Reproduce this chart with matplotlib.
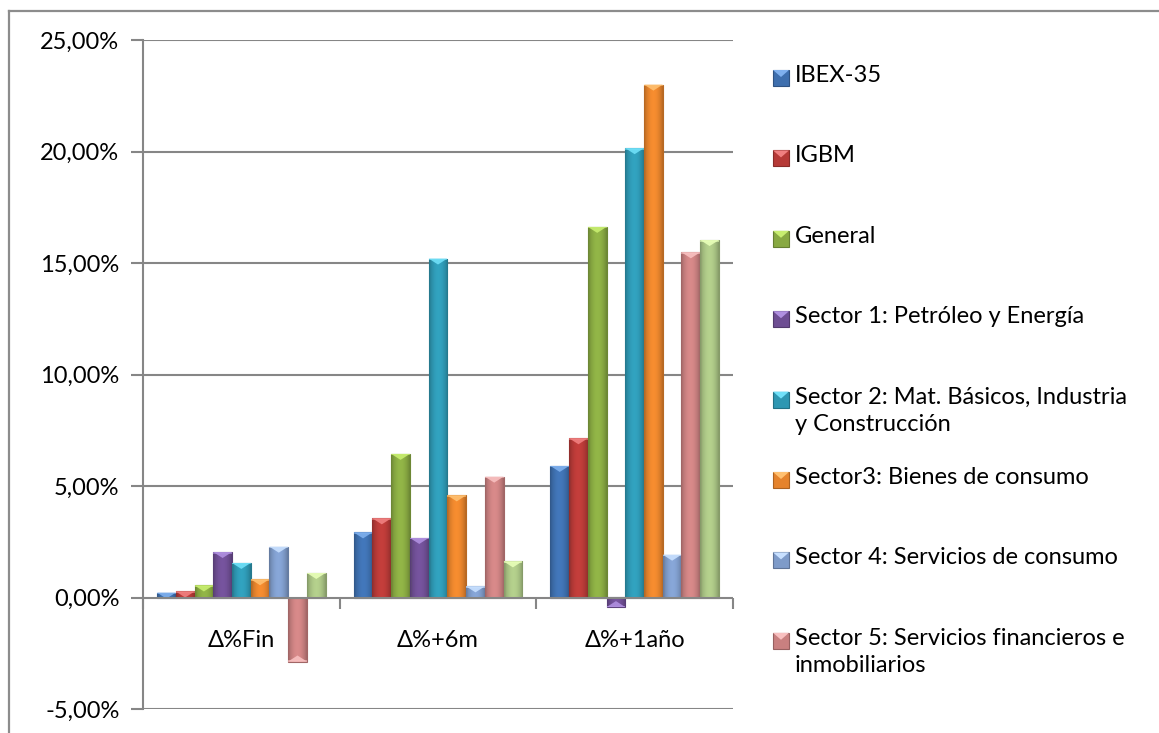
import numpy as np
import matplotlib
matplotlib.use("Agg")
import matplotlib.pyplot as plt
from matplotlib.patches import Polygon, Rectangle
from matplotlib.colors import to_rgb
from matplotlib.lines import Line2D

categories = ["Δ%Fin", "Δ%+6m", "Δ%+1año"]
series_names = [
    "IBEX-35",
    "IGBM",
    "General",
    "Sector 1: Petróleo y Energía",
    "Sector 2: Mat. Básicos, Industria\ny Construcción",
    "Sector3: Bienes de consumo",
    "Sector 4: Servicios de consumo",
    "Sector 5: Servicios financieros e\ninmobiliarios",
    "Sector 6",
]
ibex = [0.22, 2.92, 5.90]
igbm = [0.27, 3.55, 7.14]
general = [0.54, 6.44, 16.62]
sector1 = [2.04, 2.67, -0.43]
sector2 = [1.55, 15.20, 20.15]
sector3 = [0.82, 4.58, 23.00]
sector4 = [2.28, 0.50, 1.92]
sector5 = [-2.87, 5.42, 15.48]
sector6 = [1.10, 1.62, 16.03]
values = [ibex, igbm, general, sector1, sector2, sector3, sector4, sector5, sector6]
legend_count = 8  # the ninth series is cut off in the legend of the reference

colors = ["#3E6FAE", "#B63A37", "#88A942", "#6E4E93", "#2E97B2",
          "#E5832C", "#7E9BC9", "#C98080", "#A8C283"]
tops = ["#7FB0EE", "#F08080", "#C8EE70", "#B090E0", "#70E0F8",
        "#FFC070", "#C8E0FF", "#F8C0C0", "#E8FFB8"]

FONT = ["Lato", "DejaVu Sans"]
FS = 17
plt.rcParams["font.family"] = FONT

W, H = 1159, 733
fig = plt.figure(figsize=(W / 100, H / 100), dpi=100)

def fx(px):
    return px / W

def fy(py):
    return 1 - py / H

# outer frame (left and top edges visible)
fig.add_artist(Line2D([fx(9), fx(9)], [fy(11), 0], color="#8C8C8C", lw=1.6))
fig.add_artist(Line2D([fx(9), 1], [fy(11), fy(11)], color="#8C8C8C", lw=1.6))

ax = fig.add_axes([fx(143), fy(709), fx(733) - fx(143), fy(40) - fy(709)])
ax.set_xlim(0, 3)
ax.set_ylim(-5, 25)

n = len(values)
w = 1 / (n + 1.5)
x0 = np.arange(len(categories))
gray = "#868686"

yticks = np.arange(-5, 26, 5)
ax.set_yticks(yticks)
ax.set_yticklabels([f"{t:.2f}".replace(".", ",") + "%" for t in yticks], fontsize=FS)
for t in yticks:
    if t != 0:
        ax.axhline(t, color=gray, lw=1.5, zorder=0)
ax.axhline(0, color=gray, lw=1.5, zorder=4)

ax.set_xticks(np.arange(0, 4))
ax.set_xticklabels([])
ax.tick_params(axis="x", length=8, width=1.5, color=gray, direction="out")
ax.tick_params(axis="y", length=9, width=1.5, color=gray, pad=8)
ax.xaxis.set_ticks_position("bottom")
for s in ["top", "right"]:
    ax.spines[s].set_visible(False)
ax.spines["left"].set_color(gray)
ax.spines["left"].set_linewidth(1.5)
ax.spines["bottom"].set_position(("data", 0))
ax.spines["bottom"].set_visible(False)

for i, c in enumerate(categories):
    ax.text(i + 0.5, -1.95, c, ha="center", va="center", fontsize=FS)

fig.canvas.draw()
px_per_unit = ax.transData.transform((0, 1))[1] - ax.transData.transform((0, 0))[1]
bev = 6 / px_per_unit

grad = np.linspace(-1, 1, 64)
for j, vals in enumerate(values):
    xs = x0 + 0.75 * w + j * w + w / 2
    bars = ax.bar(xs, vals, width=w, color=colors[j], edgecolor="none", zorder=3)
    base = np.array(to_rgb(colors[j]))
    light = np.array(to_rgb(tops[j]))
    shade = 1.08 - 0.28 * np.abs(grad) ** 2
    img = np.clip(base[None, None, :] * shade[None, :, None], 0, 1)
    for b, v in zip(bars, vals):
        bx, by = b.get_x(), b.get_y()
        bw, bh = b.get_width(), b.get_height()
        y1, y2 = sorted([by, by + bh])
        im = ax.imshow(img, extent=[bx, bx + bw, y1, y2], aspect="auto",
                       zorder=3.1, interpolation="bilinear")
        im.set_clip_path(b)
        ax.add_patch(Rectangle((bx, y1), bw, y2 - y1, fill=False,
                               edgecolor=tuple(base * 0.8), lw=0.8, zorder=3.3))
        sgn = 1 if v >= 0 else -1
        tip = v - sgn * bev
        tri = Polygon([[bx, v], [bx + bw, v], [bx + bw / 2, tip]], closed=True,
                      facecolor=tuple(light), edgecolor="none", alpha=0.9, zorder=3.4)
        ax.add_patch(tri)
        band = sgn * bev * 0.25
        ax.add_patch(Rectangle((bx, v - band), bw, band,
                               facecolor=tuple(light), edgecolor="none", alpha=0.6, zorder=3.4))
ax.set_xlim(0, 3)
ax.set_ylim(-5, 25)

# legend (manual, Excel style)
for j in range(legend_count):
    ycen = 78 + 80.4 * j
    sq = Rectangle((fx(773), fy(ycen + 8)), fx(16), fx(16) * W / H,
                   transform=fig.transFigure, facecolor=colors[j],
                   edgecolor=tuple(np.array(to_rgb(colors[j])) * 0.75), lw=0.8)
    fig.add_artist(sq)
    tri = Polygon([[fx(773), fy(ycen - 8)], [fx(789), fy(ycen - 8)], [fx(781), fy(ycen - 1)]],
                  closed=True, transform=fig.transFigure, facecolor=tops[j], edgecolor="none")
    fig.add_artist(tri)
    fig.text(fx(795), fy(ycen - 13), series_names[j], fontsize=FS, va="top",
             ha="left", linespacing=1.37)

fig.savefig("out.png", dpi=100)
